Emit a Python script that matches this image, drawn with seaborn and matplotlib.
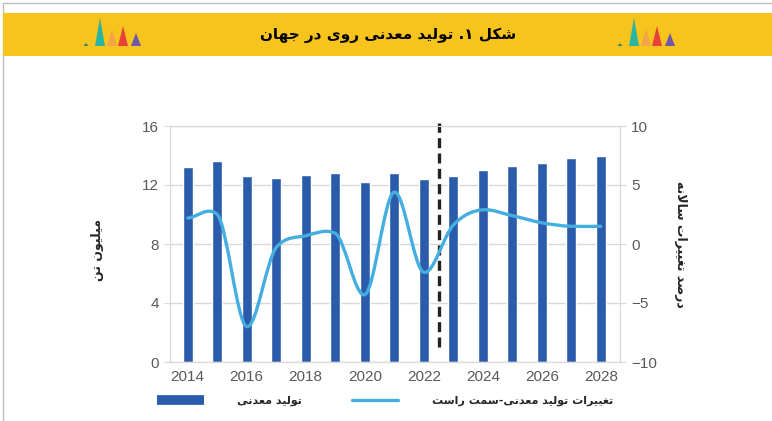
import numpy as np
import pandas as pd
import seaborn as sns
import matplotlib.pyplot as plt
from matplotlib.patches import Rectangle, Polygon, PathPatch
from matplotlib.path import Path
from matplotlib.lines import Line2D

# data
years = list(range(2014, 2029))
production = [13.2, 13.6, 12.6, 12.5, 12.7, 12.8, 12.2, 12.8, 12.4, 12.6,
              13.0, 13.3, 13.5, 13.8, 14.0]          # million tonnes (left axis)
change_pct = [2.2, 2.5, -7.0, -0.3, 0.7, 0.9, -4.3, 4.4, -2.4, 1.6,
              2.9, 2.4, 1.8, 1.5, 1.5]               # annual change % (right axis)
left_ticks = [0, 4, 8, 12, 16]
right_ticks = [-10, -5, 0, 5, 10]
forecast_split = 8.5   # between 2022 and 2023

title_txt = "شکل ۱. تولید معدنی روی در جهان"
ylabel_left = "میلیون تن"
ylabel_right = "درصد تغییرات سالانه"
legend_bar = "تولید معدنی"
legend_line = "تغییرات تولید معدنی-سمت راست"

BAR_COLOR = '#2B5CAB'
LINE_COLOR = '#45AEE0'
TICK_COLOR = '#595959'
GRID_COLOR = '#D9D9D9'
YELLOW = '#F7C31D'

# --- minimal Persian shaping (matplotlib has no bidi / joining) ---
LAMALEF = '\uE000'
FORMS = {  # isolated, final, initial, medial
    '\u0627': ('\uFE8D', '\uFE8E', None, None),
    '\u062F': ('\uFEA9', '\uFEAA', None, None),
    '\u0631': ('\uFEAD', '\uFEAE', None, None),
    '\u0648': ('\uFEED', '\uFEEE', None, None),
    LAMALEF: ('\uFEFB', '\uFEFC', None, None),
    '\u0634': ('\uFEB5', '\uFEB6', '\uFEB7', '\uFEB8'),
    '\u06A9': ('\uFB8E', '\uFB8F', '\uFB90', '\uFB91'),
    '\u0644': ('\uFEDD', '\uFEDE', '\uFEDF', '\uFEE0'),
    '\u062A': ('\uFE95', '\uFE96', '\uFE97', '\uFE98'),
    '\u06CC': ('\uFBFC', '\uFBFD', '\uFBFE', '\uFBFF'),
    '\u0645': ('\uFEE1', '\uFEE2', '\uFEE3', '\uFEE4'),
    '\u0639': ('\uFEC9', '\uFECA', '\uFECB', '\uFECC'),
    '\u0646': ('\uFEE5', '\uFEE6', '\uFEE7', '\uFEE8'),
    '\u062C': ('\uFE9D', '\uFE9E', '\uFE9F', '\uFEA0'),
    '\u0647': ('\uFEE9', '\uFEEA', '\uFEEB', '\uFEEC'),
    '\u0635': ('\uFEB9', '\uFEBA', '\uFEBB', '\uFEBC'),
    '\u063A': ('\uFECD', '\uFECE', '\uFECF', '\uFED0'),
    '\u0633': ('\uFEB1', '\uFEB2', '\uFEB3', '\uFEB4'),
}


def fa(text):
    chars = list(text.replace('\u0644\u0627', LAMALEF))
    out = []
    for i, c in enumerate(chars):
        if c not in FORMS:
            out.append(c)
            continue
        prev = chars[i - 1] if i > 0 else None
        nxt = chars[i + 1] if i < len(chars) - 1 else None
        jp = prev in FORMS and FORMS[prev][2] is not None
        jn = FORMS[c][2] is not None and nxt in FORMS
        iso, fin, ini, med = FORMS[c]
        out.append(med if jp and jn else fin if jp else ini if jn else iso)
    return ''.join(reversed(out))


sns.set_style('white')
plt.rcParams['font.family'] = ['Liberation Sans', 'DejaVu Sans']

fig = plt.figure(figsize=(7.72, 4.21), dpi=100)
W, H = 772, 421


def fx(px):
    return px / W


def fy(py):
    return 1 - py / H


# outer frame (only top/left edges visible) + yellow header
fig.patches.append(Rectangle((fx(3), -0.1), 1.2, fy(3) + 0.1, transform=fig.transFigure,
                             fill=False, edgecolor='#BDBDBD', lw=1))
fig.patches.append(Rectangle((fx(3.5), fy(56)), 1, fy(13) - fy(56), transform=fig.transFigure,
                             facecolor=YELLOW, edgecolor='none'))
fig.text(fx(388), fy(35), fa(title_txt), ha='center', va='center', fontsize=11,
         fontweight='bold', family='DejaVu Sans', color='black')


# small decorative icons in the header
def icon(x0):
    tri = [(0, 3, 2.5, '#2E8B6E'), (14, 28, 5, '#2BB5A0'), (26, 17, 5, '#F2A446'),
           (37, 20, 5, '#E8413A'), (50, 13, 5, '#7058A8')]
    base = 46
    for dx, h, hw, col in tri:
        pts = [(fx(x0 + dx - hw), fy(base)), (fx(x0 + dx + hw), fy(base)), (fx(x0 + dx), fy(base - h))]
        fig.patches.append(Polygon(pts, closed=True, transform=fig.transFigure,
                                   facecolor=col, edgecolor='none'))


icon(86)
icon(620)

ax = fig.add_axes([fx(170), fy(362), fx(620) - fx(170), fy(126) - fy(362)])
df = pd.DataFrame({'year': [str(y) for y in years], 'prod': production})
sns.barplot(data=df, x='year', y='prod', color=BAR_COLOR, saturation=1, width=0.35, ax=ax, zorder=2)
ax.set_ylim(0, 16)
ax.set_yticks(left_ticks)
ax.set_xlim(-0.6, 14.65)
ax.set_xticks(range(0, 15, 2))
ax.set_xticklabels([str(y) for y in years[::2]])
ax.set_xticks(np.arange(-0.5, 15, 1), minor=True)
ax.set_xlabel('')
ax.set_ylabel('')
ax.set_axisbelow(True)
ax.yaxis.grid(True, color=GRID_COLOR, lw=1)
for s in ax.spines.values():
    s.set_color(GRID_COLOR)
ax.tick_params(axis='y', which='major', length=4, color=GRID_COLOR, labelsize=11,
               labelcolor=TICK_COLOR, pad=4)
ax.tick_params(axis='x', which='major', length=0, labelsize=11, labelcolor=TICK_COLOR, pad=6)
ax.tick_params(axis='x', which='minor', length=4, color=GRID_COLOR)

# forecast divider
ax.plot([forecast_split, forecast_split], [1.0, 16.2], color='#222222', lw=2.4,
        ls=(0, (3, 1.6)), zorder=3, clip_on=False)

ax2 = ax.twinx()
ax2.set_ylim(-10, 10)
ax2.set_yticks(right_ticks)
for s in ax2.spines.values():
    s.set_color(GRID_COLOR)
ax2.tick_params(axis='y', length=4, color=GRID_COLOR, labelsize=11, labelcolor=TICK_COLOR, pad=4)

# smoothed line: cubic Bezier through the yearly points
# (Catmull-Rom slopes, limited where the series is monotone, softened at turning points)
xs = np.arange(len(years), dtype=float)
ys = np.array(change_pct, dtype=float)
d = np.diff(ys)
m = np.empty_like(ys)
m[0], m[-1] = 0.5 * d[0], 0.5 * d[-1]
for i in range(1, len(ys) - 1):
    cr = (ys[i + 1] - ys[i - 1]) / 2
    if d[i - 1] * d[i] > 0:
        lim = 3 * min(abs(d[i - 1]), abs(d[i]))
        m[i] = np.sign(cr) * min(abs(cr), lim)
    else:
        m[i] = 0.5 * cr
verts = [(xs[0], ys[0])]
codes = [Path.MOVETO]
for i in range(len(xs) - 1):
    verts += [(xs[i] + 1 / 3, ys[i] + m[i] / 3),
              (xs[i + 1] - 1 / 3, ys[i + 1] - m[i + 1] / 3),
              (xs[i + 1], ys[i + 1])]
    codes += [Path.CURVE4] * 3
ax2.add_patch(PathPatch(Path(verts, codes), facecolor='none', edgecolor=LINE_COLOR,
                        lw=2.4, capstyle='round', joinstyle='round', zorder=4))

# axis titles
fig.text(fx(98), fy(250), fa(ylabel_left), rotation=90, ha='center', va='center',
         fontsize=9, fontweight='bold', family='DejaVu Sans')
fig.text(fx(681), fy(244), fa(ylabel_right), rotation=270, ha='center', va='center',
         fontsize=9, fontweight='bold', family='DejaVu Sans')

# legend
handles = [Line2D([], [], color=BAR_COLOR, lw=7, solid_capstyle='butt'),
           Line2D([], [], color=LINE_COLOR, lw=2.4)]
fig.legend(handles, [fa(legend_bar), fa(legend_line)], ncol=2, loc='center',
           bbox_to_anchor=(fx(385), fy(401)), frameon=False, handlelength=4.2,
           handletextpad=3, columnspacing=4.5,
           prop={'family': 'DejaVu Sans', 'size': 8, 'weight': 'bold'})

fig.savefig('out.png', dpi=100)
